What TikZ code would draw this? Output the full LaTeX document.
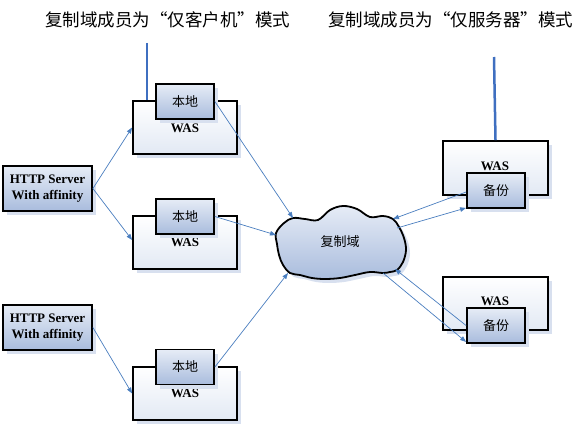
\documentclass[tikz,border=0pt]{standalone}
\usepackage{fontspec}
\setmainfont{Liberation Serif}
\newfontfamily\cjk{Noto Sans CJK SC}
\usetikzlibrary{shadows,arrows.meta}
\definecolor{lineblue}{HTML}{4A7EBF}
\definecolor{thickblue}{HTML}{3F6FC0}
\definecolor{shadowc}{HTML}{D8E0EF}
\definecolor{innerlt}{HTML}{E6ECF6}
\definecolor{innerdk}{HTML}{A9BCDD}
\definecolor{outerdk}{HTML}{E2E9F4}
\tikzset{
  myshadow/.style={drop shadow={shadow xshift=4pt, shadow yshift=-4pt, fill=shadowc, opacity=1}},
  outerbox/.style={draw=black, line width=1.8pt, top color=white, bottom color=outerdk,
    minimum width=104pt, minimum height=53pt, inner sep=0pt, myshadow},
  innerbox/.style={draw=black, line width=1.8pt, top color=innerlt, bottom color=innerdk,
    minimum width=58pt, minimum height=35pt, inner sep=0pt, font=\cjk\fontsize{13}{15}\selectfont, myshadow},
  httpbox/.style={draw=black, line width=1.8pt, top color=innerlt, bottom color=innerdk,
    minimum width=89pt, minimum height=45pt, inner sep=0pt, align=center,
    font=\bfseries\fontsize{13}{16}\selectfont, myshadow},
  waslabel/.style={font=\bfseries\fontsize{13}{15}\selectfont, inner sep=0pt},
  title/.style={font=\cjk\fontsize{17.5}{20}\selectfont, inner sep=0pt},
  link/.style={draw=lineblue, line width=0.7pt, -{Triangle[length=6pt,width=4.5pt]}},
  mast/.style={draw=thickblue, line width=2.5pt},
}
\begin{document}
\begin{tikzpicture}[x=1pt,y=-1pt]
\useasboundingbox (0,0) rectangle (580,428);
% titles
\node[title] (title1) at (167.5,20) {复制域成员为“仅客户机”模式};
\node[title] (title2) at (450.5,20) {复制域成员为“仅服务器”模式};
% HTTP servers
\node[httpbox] (http1) at (47.5,188.5) {HTTP Server\\With affinity};
\node[httpbox] (http2) at (47.5,327.5) {HTTP Server\\With affinity};
% left WAS boxes
\node[outerbox] (was1) at (185,127.5) {};
\node[waslabel] (wl1) at (185,128) {WAS};
\node[innerbox] (loc1) at (185,101.5) {本地};
\node[outerbox] (was2) at (185,242.5) {};
\node[waslabel] (wl2) at (185,242) {WAS};
\node[innerbox] (loc2) at (185,216.5) {本地};
\node[outerbox] (was3) at (185,393.5) {};
\node[waslabel] (wl3) at (185,393) {WAS};
\node[innerbox] (loc3) at (185,367) {本地};
% right WAS boxes
\node[outerbox, minimum width=105pt, minimum height=54pt] (rwas1) at (495.5,168) {};
\node[waslabel] (rwl1) at (495,166) {WAS};
\node[innerbox] (bak1) at (496,190.5) {备份};
\node[outerbox, minimum width=105pt, minimum height=53pt] (rwas2) at (495.5,303.5) {};
\node[waslabel] (rwl2) at (495,301) {WAS};
\node[innerbox] (bak2) at (496,325.5) {备份};
% cloud
\def\cloudpath{plot[smooth cycle, tension=0.6] coordinates {
 (276,233) (284,223) (293,218) (305,219) (318,220) (330,210) (343,206) (357,209)
 (370,217) (383,216) (393,219) (399,227) (404,238) (406,250) (403,262) (397,270)
 (390,272) (383,273) (370,272) (355,275) (340,278) (325,279) (312,278) (300,275)
 (290,273) (283,265) (279,255) (277,244)}}
\fill[shadowc, shift={(4,4)}] \cloudpath;
\draw[black, line width=1.8pt, top color=innerlt, bottom color=innerdk] \cloudpath;
\node[font=\cjk\fontsize{13}{15}\selectfont, inner sep=0pt] (dom) at (340,242) {复制域};
% cloud attachment points
\coordinate (c1) at (293,218);
\coordinate (c2) at (276,235);
\coordinate (c3) at (288,273);
\coordinate (c4) at (393,219);
\coordinate (c5) at (397,228);
\coordinate (c6) at (395,269);
\coordinate (c7) at (383,273);
% masts
\coordinate (t1) at (147,43);
\draw[mast] (t1) -- (t1 |- was1.north);
\coordinate (t2) at (494,57);
\draw[mast] (t2) -- (rwas1.north);
% links
\draw[link] (http1.east) -- (was1.west);
\draw[link] (http1.east) -- ([yshift=2.5pt]was2.west);
\draw[link] (http2.east) -- (was3.west);
\draw[link] (loc1.east) -- (c1);
\draw[link] (loc2.east) -- (c2);
\draw[link] (loc3.east) -- (c3);
\draw[link] ([yshift=-1.5pt]bak1.west) -- (c4);
\draw[link] (c5) -- ([yshift=1pt]bak1.south west);
\draw[link] (bak2.west) -- (c6);
\draw[link] (c7) -- ([yshift=2pt]bak2.south west);
\end{tikzpicture}
\end{document}
